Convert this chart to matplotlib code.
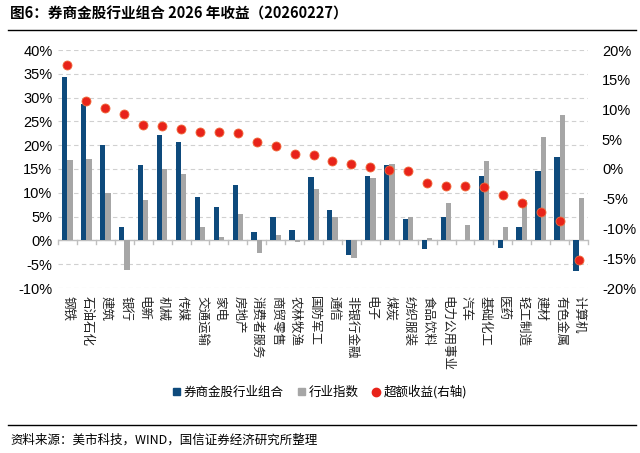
import matplotlib
matplotlib.use("Agg")
import matplotlib.pyplot as plt
import numpy as np
from matplotlib.ticker import FuncFormatter, MultipleLocator
from matplotlib.lines import Line2D
from matplotlib.patches import Patch

plt.rcParams['font.family'] = ['Noto Sans CJK SC', 'DejaVu Sans']

# 数据
industries = ["钢铁", "石油石化", "建筑", "银行", "电新", "机械", "传媒", "交通运输",
              "家电", "房地产", "消费者服务", "商贸零售", "农林牧渔", "国防军工", "通信",
              "非银行金融", "电子", "煤炭", "纺织服装", "食品饮料", "电力公用事业", "汽车",
              "基础化工", "医药", "轻工制造", "建材", "有色金属", "计算机"]
portfolio = [34.3, 28.6, 20.1, 2.9, 15.8, 22.1, 20.7, 9.1, 7.0, 11.6, 1.8, 5.0, 2.2, 13.4,
             6.3, -3.0, 13.6, 15.8, 4.6, -1.8, 4.9, 0.1, 13.5, -1.5, 2.8, 14.5, 17.6, -6.4]
index_ret = [16.8, 17.0, 9.9, -6.3, 8.4, 15.1, 13.9, 2.8, 0.8, 5.6, -2.7, 1.1, -0.4, 10.9,
             5.0, -3.7, 13.2, 16.0, 4.9, 0.6, 7.9, 3.2, 16.7, 2.8, 8.5, 21.8, 26.3, 8.9]
excess = [17.5, 11.5, 10.3, 9.3, 7.4, 7.2, 6.8, 6.3, 6.2, 6.1, 4.5, 3.9, 2.6, 2.4,
          1.3, 0.8, 0.4, -0.1, -0.4, -2.4, -2.9, -2.9, -3.1, -4.4, -5.7, -7.2, -8.8, -15.3]

BLUE = "#0E4A7C"
GRAY = "#A6A6A6"
RED = "#E8231A"

fig = plt.figure(figsize=(6.4, 4.53), dpi=100)
ax = fig.add_axes([58 / 640, 1 - 288 / 453, 530 / 640, 238 / 453])
ax2 = ax.twinx()

x = np.arange(len(industries))
w = 0.28
ax.bar(x - w / 2, portfolio, width=w, color=BLUE, zorder=3)
ax.bar(x + w / 2, index_ret, width=w, color=GRAY, zorder=3)
ax2.scatter(x, excess, s=42, color=RED, edgecolor="#F06A3A", linewidth=0.6, zorder=5)

ax.set_xlim(-0.5, len(industries) - 0.5)
ax.set_ylim(-10, 40)
ax2.set_ylim(-20, 20)
ax.yaxis.set_major_locator(MultipleLocator(5))
ax2.yaxis.set_major_locator(MultipleLocator(5))
pct = FuncFormatter(lambda v, p: f"{v:.0f}%")
ax.yaxis.set_major_formatter(pct)
ax2.yaxis.set_major_formatter(pct)

ax.grid(axis="y", linestyle=(0, (4, 3)), color="#D0D0D0", linewidth=0.8, zorder=0)
ax.axhline(0, color="#BFBFBF", linewidth=1.0, zorder=2)
for b in np.arange(-0.5, len(industries), 1.0):
    ax.plot([b, b], [0, -0.8], color="#BFBFBF", linewidth=1.0, zorder=2, clip_on=False)

for a in (ax, ax2):
    for s in a.spines.values():
        s.set_visible(False)
    a.tick_params(axis="y", length=0, labelsize=10.5, colors="#000000")
    for t in a.get_yticklabels():
        t.set_family(["Liberation Sans", "DejaVu Sans"])
ax.tick_params(axis="y", pad=4)
ax2.tick_params(axis="y", pad=10)
ax.set_xticks([])

for i, name in enumerate(industries):
    ax.text(i + 0.05, -11.6, name, ha="center", va="top", rotation=-90, fontsize=9,
            color="#222222")

handles = [Patch(color=BLUE), Patch(color=GRAY),
           Line2D([], [], marker="o", linestyle="", color=RED, markersize=6)]
labels = ["券商金股行业组合", "行业指数", "超额收益(右轴)"]
fig.legend(handles, labels, loc="center", bbox_to_anchor=(0.5, 1 - 392 / 453), ncol=3,
           frameon=False, fontsize=9, handlelength=0.5, handleheight=0.5,
           handletextpad=0.3, columnspacing=1.2)

fig.text(10 / 640, 1 - 14 / 453, "图6：券商金股行业组合 2026 年收益（20260227）",
         ha="left", va="center", fontsize=10.5, fontweight="bold")
fig.add_artist(Line2D([8 / 640, 636 / 640], [1 - 30 / 453, 1 - 30 / 453], color="black", linewidth=1.0))
fig.add_artist(Line2D([8 / 640, 636 / 640], [1 - 425 / 453, 1 - 425 / 453], color="black", linewidth=1.0))
fig.text(10 / 640, 1 - 440 / 453, "资料来源：美市科技，WIND，国信证券经济研究所整理",
         ha="left", va="center", fontsize=9)

fig.savefig("out.png", dpi=100)
